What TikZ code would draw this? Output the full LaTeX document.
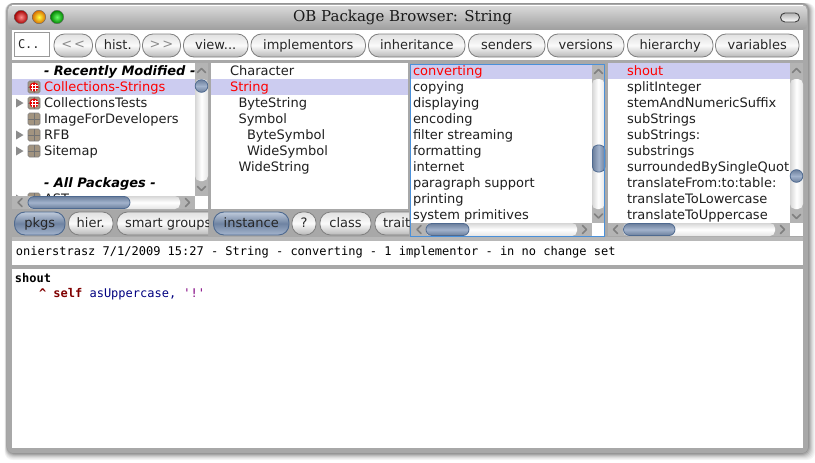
\documentclass[tikz,border=0pt]{standalone}
\usepackage{fontspec}
\setmainfont{DejaVu Sans}
\newfontfamily\serifttl{DejaVu Serif}
\newfontfamily\monof{DejaVu Sans Mono}
\usetikzlibrary{shadings}
\definecolor{framegray}{HTML}{A8A8A8}
\definecolor{selrow}{HTML}{CCCCF0}
\definecolor{paneblue}{HTML}{4A90D9}
\definecolor{thumbblue}{HTML}{7E95B8}
\definecolor{thumbedge}{HTML}{4F6A90}
\definecolor{sbgray}{HTML}{B4B4B4}
\definecolor{redtxt}{HTML}{FF0000}
\definecolor{kwred}{HTML}{800000}
\definecolor{msgblue}{HTML}{000080}
\definecolor{strpurple}{HTML}{800080}
\definecolor{iconbrown}{HTML}{A29480}
\tikzset{
  x=1pt,y=-1pt,
  every node/.style={inner sep=0pt,outer sep=0pt},
  rowtext/.style={anchor=base west,font=\fontsize{13}{14}\selectfont,text=black!88},
  redrow/.style={rowtext,text=redtxt},
  headtext/.style={anchor=base west,font=\fontsize{13}{14}\selectfont\bfseries\itshape},
  monotext/.style={anchor=base west,font=\monof\fontsize{12}{14}\selectfont},
  btnshape/.style={draw=black!50,line width=.8pt,rounded corners=10.5pt,top color=black!12,bottom color=black!28,middle color=black!2},
  bluebtn/.style={draw=thumbedge,line width=.9pt,rounded corners=10.5pt,top color=thumbblue!50!white,bottom color=thumbblue!70!white,middle color=thumbblue!88!black},
  btntext/.style={font=\fontsize{13}{14}\selectfont,text=black!85},
  graytext/.style={font=\fontsize{13}{14}\selectfont,text=black!45},
  track/.style={left color=black!16,right color=black!10,middle color=white},
  htrack/.style={top color=black!16,bottom color=black!10,middle color=white},
  thumb/.style={draw=thumbedge,line width=.8pt,top color=thumbblue!85!black,bottom color=thumbblue!85!black,middle color=thumbblue!72!white},
  vthumb/.style={draw=thumbedge,line width=.8pt,left color=thumbblue!85!black,right color=thumbblue!85!black,middle color=thumbblue!72!white},
  arrowtip/.style={draw=black!50,line width=1.6pt,line cap=round,line join=round},
  pkgicon/.style={draw=black!50,fill=iconbrown,rounded corners=1.5pt,line width=.6pt},
  tri/.style={fill=black!45,draw=none}
}
% [style]{name}{text}{x1}{x2}{y}
\newcommand{\btn}[6][btnshape]{%
  \path[#1] (#4,#6) rectangle (#5,#6+23);
  \node[btntext,anchor=base] (#2) at ({(#4+#5)/2},#6+15.5) {#3};}
\newcommand{\pk}[3]{%
  \path[pkgicon] (#1-6,#2-6) rectangle (#1+6,#2+6);
  \draw[black!55,line width=.9pt] (#1,#2-6) -- (#1,#2+6) (#1-6,#2) -- (#1+6,#2);
  #3}
\newcommand{\mdot}[2]{\fill[red!90!black] (#1,#2) circle (4.6);
  \draw[white,line width=.8pt] (#1-1.4,#2-3.5) -- (#1-1.4,#2+3.5) (#1+1.4,#2-3.5) -- (#1+1.4,#2+3.5) (#1-3.5,#2-1.4) -- (#1+3.5,#2-1.4) (#1-3.5,#2+1.4) -- (#1+3.5,#2+1.4);}
\newcommand{\vupdown}[3]{%
  \draw[arrowtip] (#1-4,#2+2) -- (#1,#2-2) -- (#1+4,#2+2);
  \draw[arrowtip] (#1-4,#3-2) -- (#1,#3+2) -- (#1+4,#3-2);}
\newcommand{\hleftright}[3]{%
  \draw[arrowtip] (#2+2,#1-4) -- (#2-2,#1) -- (#2+2,#1+4);
  \draw[arrowtip] (#3-2,#1-4) -- (#3+2,#1) -- (#3-2,#1+4);}
\begin{document}
\begin{tikzpicture}
\useasboundingbox (0,0) rectangle (815,463);
% drop shadow
\foreach \o/\c in {7/4,6/8,5/13,4/19,3/26,2/34,1/42}{
  \fill[black!\c,rounded corners=8pt] (7-\o/3,3) rectangle (808+\o,453+\o);}
% window body
\fill[framegray,rounded corners=6pt] (7,4) rectangle (808,453);
% title bar
\path[top color=black!14,bottom color=black!38,rounded corners=5pt] (8,5) rectangle (807,30);
\draw[white,line width=.7pt] (12,5.5) -- (803,5.5);
\node[font=\serifttl\fontsize{15}{16}\selectfont,text=black!90] (title) at (402.5,17) {OB Package Browser: String};
% traffic lights
\shade[inner color=red!45!white,outer color=red!65!black,draw=black!60] (21,17) circle (6.7);
\shade[inner color=yellow!75!white,outer color=orange!85!black,draw=black!60] (39,17) circle (6.7);
\shade[inner color=green!60!white,outer color=green!50!black,draw=black!60] (57,17) circle (6.7);
\path[draw=black!75,line width=.9pt,rounded corners=4.5pt,top color=black!30,bottom color=white] (780.5,13) rectangle (799.5,22);
% toolbar
\fill[white] (12,30) rectangle (803,60);
\draw[black!40,line width=.8pt,fill=white] (14.5,32.5) rectangle (49.5,56.5);
\node[monotext,text=black!85] (searchbox) at (18,48) {C..};
\path[btnshape] (54,34) rectangle (92.5,57);
\node[graytext] (backbtn) at (73.2,45) {<\hspace{2pt}<};
\btn{histbtn}{hist.}{95.5}{140}{34}
\path[btnshape] (142.5,34) rectangle (180.5,57);
\node[graytext] (fwdbtn) at (161.5,45) {>\hspace{2pt}>};
\btn{viewbtn}{view...}{183.5}{248}{34}
\btn{implbtn}{implementors}{251}{365.5}{34}
\btn{inhbtn}{inheritance}{368.5}{465}{34}
\btn{sendbtn}{senders}{468.5}{545}{34}
\btn{verbtn}{versions}{547.5}{624}{34}
\btn{hierbtn}{hierarchy}{627.5}{713}{34}
\btn{varbtn}{variables}{715.5}{799}{34}
% strip below lists
\fill[framegray] (12,60) rectangle (803,241);
% pane 1
\fill[white] (12,63) rectangle (208,209);
\begin{scope}
\clip (12,63) rectangle (195,209);
\fill[selrow] (12,79) rectangle (195,95);
\node[headtext] (recent) at (44,75.5) {- Recently Modified -};
\node[redrow] (p1) at (44,91.5) {Collections-Strings};
\node[rowtext] (p2) at (44,107.5) {CollectionsTests};
\node[rowtext] (p3) at (44,123.5) {ImageForDevelopers};
\node[rowtext] (p4) at (44,139.5) {RFB};
\node[rowtext] (p5) at (44,155.5) {Sitemap};
\node[headtext] (allp) at (44,187.5) {- All Packages -};
\node[rowtext] (p6) at (44,203.5) {AST};
\pk{34}{87}{\mdot{34}{87}}
\pk{34}{103}{\mdot{34}{103}}
\pk{34}{119}{}
\pk{34}{135}{}
\pk{34}{151}{}
\pk{34}{199}{}
\foreach \yy in {103,135,151,199}{\fill[tri] (16,\yy-4.5) -- (23.5,\yy) -- (16,\yy+4.5) -- cycle;}
\end{scope}
% pane 1 scrollbars
\fill[sbgray] (195,63) rectangle (208,196);
\path[track,rounded corners=5pt] (195,79) rectangle (208,181);
\vupdown{201.5}{70.5}{188.5}
\path[thumb] (201.5,86) circle (6.3);
\fill[sbgray] (12,196) rectangle (195,209);
\path[htrack,rounded corners=5pt] (28,196) rectangle (180,209);
\hleftright{202.5}{20}{187.5}
\path[thumb,rounded corners=6pt] (28,196.5) rectangle (130,208.5);
% pane 2
\fill[white] (211,63) rectangle (408,209);
\fill[selrow] (211,79) rectangle (408,95);
\node[rowtext] (c1) at (230,75.5) {Character};
\node[redrow] (c2) at (230,91.5) {String};
\node[rowtext] (c3) at (238.5,107.5) {ByteString};
\node[rowtext] (c4) at (238.5,123.5) {Symbol};
\node[rowtext] (c5) at (247,139.5) {ByteSymbol};
\node[rowtext] (c6) at (247,155.5) {WideSymbol};
\node[rowtext] (c7) at (238.5,171.5) {WideString};
% lower buttons
\begin{scope}
\clip (12,209) rectangle (208,238);
\btn[bluebtn]{pkgsbtn}{pkgs}{14.5}{65}{212}
\btn{hierdot}{hier.}{68.5}{113}{212}
\path[btnshape] (117,212) rectangle (225,235);
\node[btntext,anchor=base west] (smart) at (125,227.5) {smart groups};
\end{scope}
\begin{scope}
\clip (208,209) rectangle (409,238);
\btn[bluebtn]{instbtn}{instance}{213.5}{289}{212}
\btn{helpbtn}{?}{292}{316}{212}
\btn{classbtn}{class}{320}{371}{212}
\path[btnshape] (375,212) rectangle (430,235);
\node[btntext,anchor=base west] (trait) at (383,227.5) {trait};
\end{scope}
% pane 3
\fill[white] (410.5,64) rectangle (605,236);
\begin{scope}
\clip (411,65) rectangle (592,223);
\fill[selrow] (411,65) rectangle (592,79);
\foreach \n/\t/\yy in {m2/copying/91.5,m3/displaying/107.5,m4/encoding/123.5,m5/filter streaming/139.5,m6/formatting/155.5,m7/internet/171.5,m8/paragraph support/187.5,m9/printing/203.5,m10/system primitives/219.5}{
  \node[rowtext] (\n) at (413,\yy) {\t};}
\node[redrow] (m1) at (413,75.5) {converting};
\end{scope}
\fill[sbgray] (592,65) rectangle (604.5,223);
\path[track,rounded corners=5pt] (592,79) rectangle (604.5,209);
\vupdown{598.5}{71.5}{216}
\path[vthumb,rounded corners=5pt] (592.5,145) rectangle (605,172);
\fill[sbgray] (411,223) rectangle (592,236);
\path[htrack,rounded corners=5pt] (426,223) rectangle (577,236);
\hleftright{229.5}{419}{584.5}
\path[thumb,rounded corners=6pt] (426,223.5) rectangle (469,235.5);
\draw[paneblue,line width=1pt] (410.5,64) rectangle (604.5,236);
% pane 4
\fill[white] (608,63) rectangle (803,236);
\begin{scope}
\clip (608,63) rectangle (790,223);
\fill[selrow] (608,63) rectangle (790,79);
\foreach \n/\t/\yy in {s2/splitInteger/91.5,s3/stemAndNumericSuffix/107.5,s4/subStrings/123.5,s5/subStrings:/139.5,s6/substrings/155.5,s7/surroundedBySingleQuot/171.5,s8/translateFrom:to:table:/187.5,s9/translateToLowercase/203.5,s10/translateToUppercase/219.5}{
  \node[rowtext] (\n) at (627,\yy) {\t};}
\node[redrow] (s1) at (627,75.5) {shout};
\end{scope}
\fill[sbgray] (790,63) rectangle (803,223);
\path[track,rounded corners=5pt] (790,79) rectangle (803,209);
\vupdown{796.5}{70.5}{216.5}
\path[thumb] (796.5,176) circle (6.3);
\fill[sbgray] (608,223) rectangle (790,236);
\path[htrack,rounded corners=5pt] (623,223) rectangle (775,236);
\hleftright{229.5}{615.5}{782.5}
\path[thumb,rounded corners=6pt] (623.5,223.5) rectangle (675,235.5);
% status
\fill[black!28] (12,237) rectangle (803,241);
\fill[white] (12,241) rectangle (803,265);
\node[monotext] (status) at (16,255.5) {onierstrasz 7/1/2009 15:27 - String - converting - 1 implementor - in no change set};
% code
\fill[white] (12,269) rectangle (803,448);
\node[monotext,font=\monof\bfseries\fontsize{12}{14}\selectfont] (codehead) at (15,282) {shout};
\node[monotext] (code) at (39,297) {\textcolor{kwred}{\textbf{\symbol{94}}} \textcolor{kwred}{\textbf{self}} \textcolor{msgblue}{asUppercase,} \textcolor{strpurple}{\symbol{39}!\symbol{39}}};
\end{tikzpicture}
\end{document}
